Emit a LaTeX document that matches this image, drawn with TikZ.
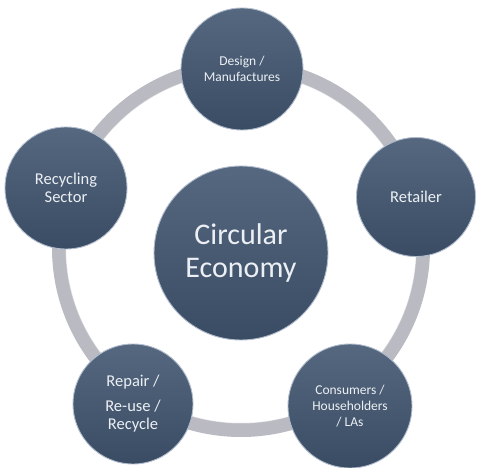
\documentclass[tikz,border=0pt]{standalone}
\usepackage{fontspec}
\setmainfont{Carlito}
\definecolor{slatetop}{RGB}{86,104,128}
\definecolor{slatebot}{RGB}{58,76,100}
\definecolor{slaterim}{RGB}{176,188,204}
\definecolor{ringgray}{RGB}{185,186,194}
\definecolor{labelwhite}{RGB}{236,240,244}
\begin{document}
\begin{tikzpicture}[x=1pt,y=1pt]
			\tikzset{stage/.style={circle,inner sep=0pt,minimum size=122pt,top color=slatetop,bottom color=slatebot,draw=slaterim,line width=0.9pt,text=labelwhite,align=center}}
			\tikzset{hub/.style={stage,minimum size=174pt,font=\fontsize{30}{33}\selectfont}}
			\useasboundingbox (0,0) rectangle (480,-468);
			% ring behind the stages
			\draw [ringgray,line width=14pt] (241,-248) circle (182);
			\draw [white,opacity=0.5,line width=1pt] (241,-248) circle (175);
			% stages
			\node [hub] (economy) at (241,-253) {Circular\\Economy};
			\node [stage,font=\fontsize{13.5}{16}\selectfont] (design) at (242,-69) {Design /\\Manufactures};
			\node [stage,minimum size=119pt,font=\fontsize{16.5}{18}\selectfont] (retailer) at (416,-197) {Retailer};
			\node [stage,font=\fontsize{13.5}{16}\selectfont,minimum size=124pt] (consumers) at (350,-406) {Consumers /\\Householders\\/ LAs};
			\node [stage,minimum size=120pt,font=\fontsize{16.5}{18}\selectfont] (repair) at (133,-404) {Repair /\\[7pt]Re-use /\\Recycle};
			\node [stage,font=\fontsize{16.5}{18}\selectfont] (recycling) at (66,-188) {Recycling\\Sector};
		\end{tikzpicture}
\end{document}
